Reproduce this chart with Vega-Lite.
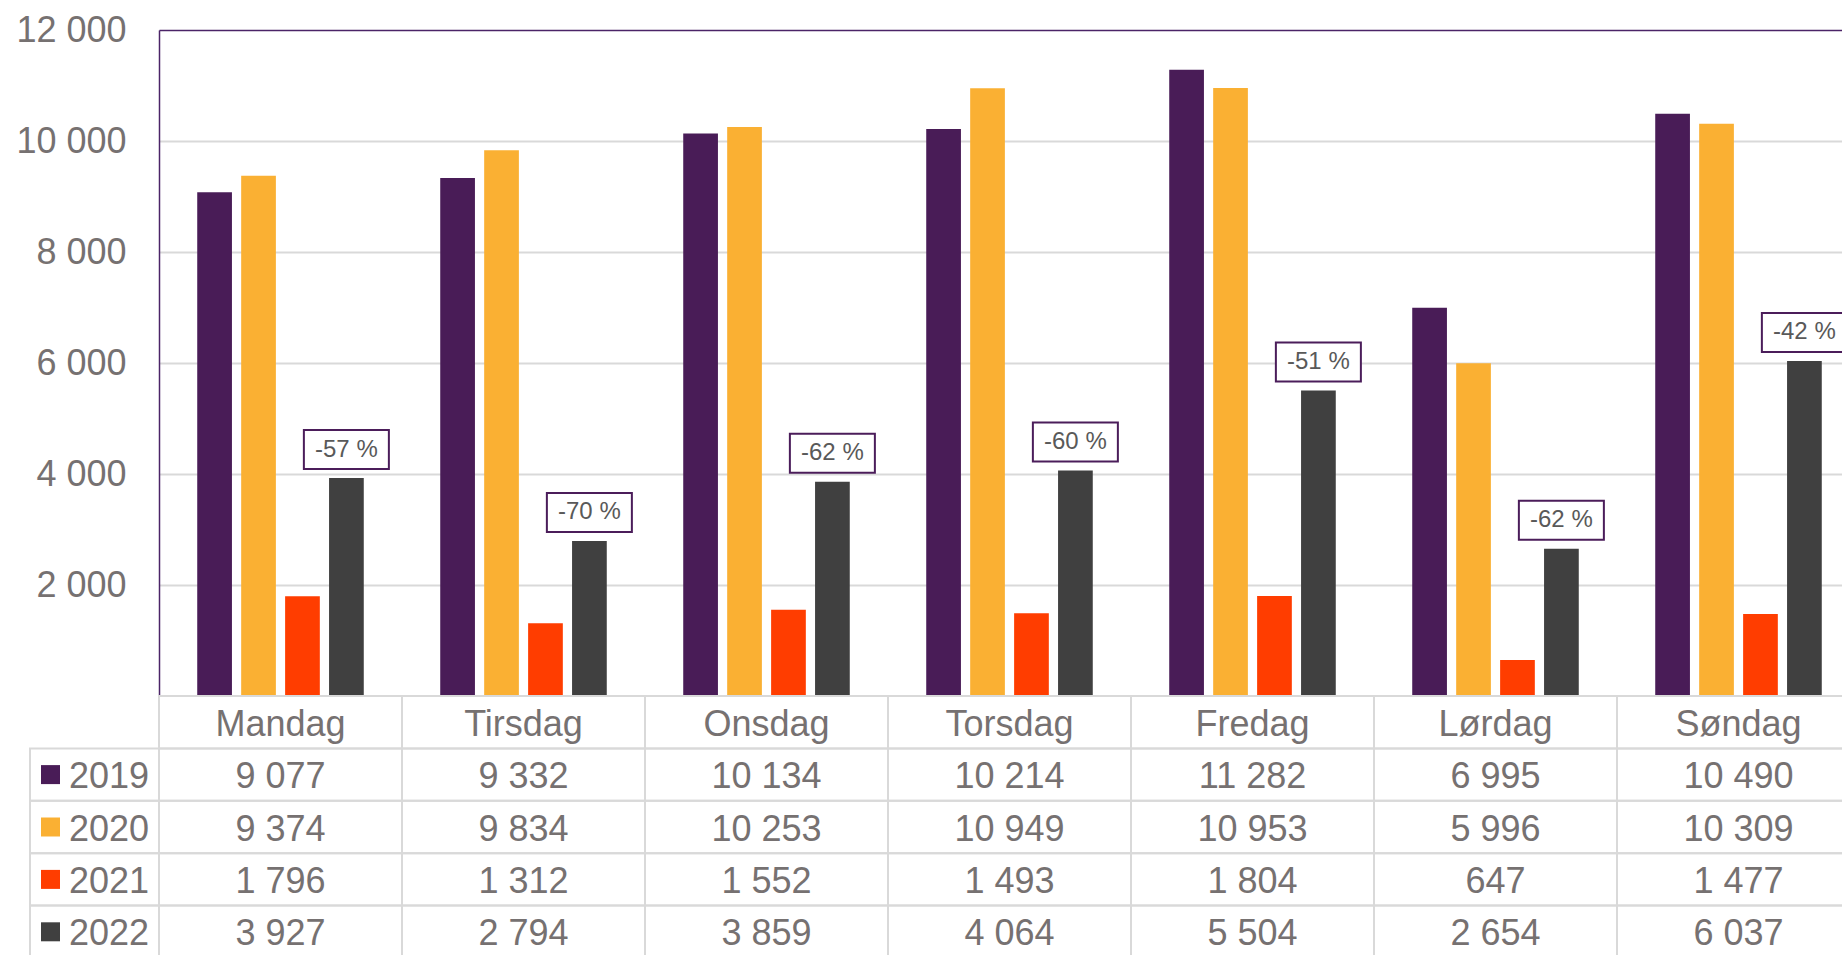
{
  "$schema": "https://vega.github.io/schema/vega-lite/v6.json",
  "width": 1683,
  "height": 925,
  "autosize": {"type": "none"},
  "padding": {"left": 159, "top": 30, "right": 0, "bottom": 0},
  "background": "white",
  "config": {
    "view": {"stroke": null},
    "font": "Liberation Sans",
    "locale": {"number": {"decimal": ",", "thousands": " ", "grouping": [3], "currency": ["", " kr"]}}
  },
  "datasets": {
    "trips": [
      {"day": "Mandag", "year": "2019", "value": 9077},
      {"day": "Tirsdag", "year": "2019", "value": 9332},
      {"day": "Onsdag", "year": "2019", "value": 10134},
      {"day": "Torsdag", "year": "2019", "value": 10214},
      {"day": "Fredag", "year": "2019", "value": 11282},
      {"day": "Lørdag", "year": "2019", "value": 6995},
      {"day": "Søndag", "year": "2019", "value": 10490},
      {"day": "Mandag", "year": "2020", "value": 9374},
      {"day": "Tirsdag", "year": "2020", "value": 9834},
      {"day": "Onsdag", "year": "2020", "value": 10253},
      {"day": "Torsdag", "year": "2020", "value": 10949},
      {"day": "Fredag", "year": "2020", "value": 10953},
      {"day": "Lørdag", "year": "2020", "value": 5996},
      {"day": "Søndag", "year": "2020", "value": 10309},
      {"day": "Mandag", "year": "2021", "value": 1796},
      {"day": "Tirsdag", "year": "2021", "value": 1312},
      {"day": "Onsdag", "year": "2021", "value": 1552},
      {"day": "Torsdag", "year": "2021", "value": 1493},
      {"day": "Fredag", "year": "2021", "value": 1804},
      {"day": "Lørdag", "year": "2021", "value": 647},
      {"day": "Søndag", "year": "2021", "value": 1477},
      {"day": "Mandag", "year": "2022", "value": 3927},
      {"day": "Tirsdag", "year": "2022", "value": 2794},
      {"day": "Onsdag", "year": "2022", "value": 3859},
      {"day": "Torsdag", "year": "2022", "value": 4064},
      {"day": "Fredag", "year": "2022", "value": 5504},
      {"day": "Lørdag", "year": "2022", "value": 2654},
      {"day": "Søndag", "year": "2022", "value": 6037}
    ],
    "changes": [
      {"day": "Mandag", "year": "2022", "value": 3927, "change": "-57 %"},
      {"day": "Tirsdag", "year": "2022", "value": 2794, "change": "-70 %"},
      {"day": "Onsdag", "year": "2022", "value": 3859, "change": "-62 %"},
      {"day": "Torsdag", "year": "2022", "value": 4064, "change": "-60 %"},
      {"day": "Fredag", "year": "2022", "value": 5504, "change": "-51 %"},
      {"day": "Lørdag", "year": "2022", "value": 2654, "change": "-62 %"},
      {"day": "Søndag", "year": "2022", "value": 6037, "change": "-42 %"}
    ]
  },
  "resolve": {"scale": {"x": "independent", "y": "independent", "xOffset": "independent"}},
  "layer": [
    {
      "data": {"name": "trips"},
      "mark": {"type": "bar"},
      "encoding": {
        "x": {"field": "day", "type": "nominal", "axis": null,
              "scale": {"type": "band", "domain": ["Mandag", "Tirsdag", "Onsdag", "Torsdag", "Fredag", "Lørdag", "Søndag"], "range": [0, 1701], "paddingInner": 0, "paddingOuter": 0}},
        "xOffset": {"field": "year", "type": "nominal",
              "scale": {"domain": ["2019", "2020", "2021", "2022"], "paddingInner": 0.21, "paddingOuter": 0.87}},
        "y": {"field": "value", "type": "quantitative",
              "scale": {"domain": [0, 12000], "range": [666, 0], "nice": false, "zero": true},
              "axis": {
                "values": [2000, 4000, 6000, 8000, 10000, 12000],
                "title": null, "ticks": false, "tickSize": 0, "labelPadding": 33,
                "labelFontSize": 36, "labelColor": "#767171", "labelFlush": false, "labelOverlap": false,
                "domainColor": "#4B2467", "domainWidth": 1.5,
                "grid": true,
                "gridColor": {"condition": {"test": "datum.value === 12000", "value": "#4B2467"}, "value": "#D9D9D9"},
                "gridWidth": {"condition": {"test": "datum.value === 12000", "value": 1.5}, "value": 2}
              }},
        "color": {"field": "year", "type": "nominal", "legend": null,
              "scale": {"domain": ["2019", "2020", "2021", "2022"], "range": ["#491C57", "#FAB033", "#FF3D00", "#404040"]}}
      }
    },
    {
      "data": {"name": "trips"},
      "mark": {"type": "rect", "fill": "white", "fillOpacity": 0, "stroke": "#D9D9D9", "strokeWidth": 2},
      "encoding": {
        "x": {"field": "day", "type": "nominal", "axis": null,
              "scale": {"type": "band", "domain": ["Mandag", "Tirsdag", "Onsdag", "Torsdag", "Fredag", "Lørdag", "Søndag"], "range": [0, 1701], "paddingInner": 0, "paddingOuter": 0}},
        "y": {"field": "year", "type": "nominal", "axis": null,
              "scale": {"type": "band", "domain": ["Dag", "2019", "2020", "2021", "2022"], "range": [666, 928], "paddingInner": 0, "paddingOuter": 0}}
      }
    },
    {
      "data": {"name": "trips"},
      "transform": [{"filter": "datum.year === '2019'"}],
      "mark": {"type": "rect", "fill": "white", "fillOpacity": 0, "stroke": "#D9D9D9", "strokeWidth": 2},
      "encoding": {
        "x": {"field": "day", "type": "nominal", "axis": null,
              "scale": {"type": "band", "domain": ["Mandag", "Tirsdag", "Onsdag", "Torsdag", "Fredag", "Lørdag", "Søndag"], "range": [0, 1701], "paddingInner": 0, "paddingOuter": 0}},
        "y": {"datum": "Dag", "type": "nominal", "axis": null,
              "scale": {"type": "band", "domain": ["Dag", "2019", "2020", "2021", "2022"], "range": [666, 928], "paddingInner": 0, "paddingOuter": 0}}
      }
    },
    {
      "data": {"name": "trips"},
      "transform": [{"filter": "datum.day === 'Mandag'"}],
      "mark": {"type": "rect", "fill": "white", "fillOpacity": 0, "stroke": "#D9D9D9", "strokeWidth": 2},
      "encoding": {
        "x": {"field": "day", "type": "nominal", "axis": null,
              "scale": {"type": "band", "domain": ["Mandag"], "range": [-129, 0], "paddingInner": 0, "paddingOuter": 0}},
        "y": {"field": "year", "type": "nominal", "axis": null,
              "scale": {"type": "band", "domain": ["Dag", "2019", "2020", "2021", "2022"], "range": [666, 928], "paddingInner": 0, "paddingOuter": 0}}
      }
    },
    {
      "data": {"name": "trips"},
      "transform": [{"filter": "datum.year === '2019'"}],
      "mark": {"type": "text", "fontSize": 36, "color": "#767171", "baseline": "middle", "align": "center", "dy": 2.5},
      "encoding": {
        "x": {"field": "day", "type": "nominal", "axis": null,
              "scale": {"type": "band", "domain": ["Mandag", "Tirsdag", "Onsdag", "Torsdag", "Fredag", "Lørdag", "Søndag"], "range": [0, 1701], "paddingInner": 0, "paddingOuter": 0}},
        "y": {"datum": "Dag", "type": "nominal", "axis": null,
              "scale": {"type": "band", "domain": ["Dag", "2019", "2020", "2021", "2022"], "range": [666, 928], "paddingInner": 0, "paddingOuter": 0}},
        "text": {"field": "day", "type": "nominal"}
      }
    },
    {
      "data": {"name": "trips"},
      "mark": {"type": "text", "fontSize": 36, "color": "#767171", "baseline": "middle", "align": "center", "dy": 2.5},
      "encoding": {
        "x": {"field": "day", "type": "nominal", "axis": null,
              "scale": {"type": "band", "domain": ["Mandag", "Tirsdag", "Onsdag", "Torsdag", "Fredag", "Lørdag", "Søndag"], "range": [0, 1701], "paddingInner": 0, "paddingOuter": 0}},
        "y": {"field": "year", "type": "nominal", "axis": null,
              "scale": {"type": "band", "domain": ["Dag", "2019", "2020", "2021", "2022"], "range": [666, 928], "paddingInner": 0, "paddingOuter": 0}},
        "text": {"field": "value", "type": "quantitative", "format": ",d"}
      }
    },
    {
      "data": {"name": "trips"},
      "transform": [{"filter": "datum.day === 'Mandag'"}],
      "mark": {"type": "square", "size": 361, "filled": true, "opacity": 1},
      "encoding": {
        "x": {"field": "day", "type": "nominal", "axis": null, "bandPosition": 0.159,
              "scale": {"type": "band", "domain": ["Mandag"], "range": [-129, 0], "paddingInner": 0, "paddingOuter": 0}},
        "y": {"field": "year", "type": "nominal", "axis": null,
              "scale": {"type": "band", "domain": ["Dag", "2019", "2020", "2021", "2022"], "range": [666, 928], "paddingInner": 0, "paddingOuter": 0}},
        "color": {"field": "year", "type": "nominal", "legend": null,
              "scale": {"domain": ["2019", "2020", "2021", "2022"], "range": ["#491C57", "#FAB033", "#FF3D00", "#404040"]}}
      }
    },
    {
      "data": {"name": "trips"},
      "transform": [{"filter": "datum.day === 'Mandag'"}],
      "mark": {"type": "text", "fontSize": 36, "color": "#767171", "baseline": "middle", "align": "left", "dy": 2.5},
      "encoding": {
        "x": {"field": "day", "type": "nominal", "axis": null, "bandPosition": 0.302,
              "scale": {"type": "band", "domain": ["Mandag"], "range": [-129, 0], "paddingInner": 0, "paddingOuter": 0}},
        "y": {"field": "year", "type": "nominal", "axis": null,
              "scale": {"type": "band", "domain": ["Dag", "2019", "2020", "2021", "2022"], "range": [666, 928], "paddingInner": 0, "paddingOuter": 0}},
        "text": {"field": "year", "type": "nominal"}
      }
    },
    {
      "data": {"name": "changes"},
      "mark": {"type": "point", "shape": "M-1,-0.4588H1V0.4588H-1Z", "size": 7225, "filled": true, "fill": "white", "stroke": "#4B1D5A", "strokeWidth": 2, "opacity": 1, "yOffset": -28.5},
      "encoding": {
        "x": {"field": "day", "type": "nominal", "axis": null, "bandPosition": 0.7711,
              "scale": {"type": "band", "domain": ["Mandag", "Tirsdag", "Onsdag", "Torsdag", "Fredag", "Lørdag", "Søndag"], "range": [0, 1701], "paddingInner": 0, "paddingOuter": 0}},
        "y": {"field": "value", "type": "quantitative", "axis": null,
              "scale": {"domain": [0, 12000], "range": [666, 0], "nice": false, "zero": true}}
      }
    },
    {
      "data": {"name": "changes"},
      "mark": {"type": "text", "fontSize": 24, "color": "#595959", "baseline": "middle", "align": "center", "yOffset": -28.5},
      "encoding": {
        "x": {"field": "day", "type": "nominal", "axis": null, "bandPosition": 0.7711,
              "scale": {"type": "band", "domain": ["Mandag", "Tirsdag", "Onsdag", "Torsdag", "Fredag", "Lørdag", "Søndag"], "range": [0, 1701], "paddingInner": 0, "paddingOuter": 0}},
        "y": {"field": "value", "type": "quantitative", "axis": null,
              "scale": {"domain": [0, 12000], "range": [666, 0], "nice": false, "zero": true}},
        "text": {"field": "change", "type": "nominal"}
      }
    }
  ]
}
